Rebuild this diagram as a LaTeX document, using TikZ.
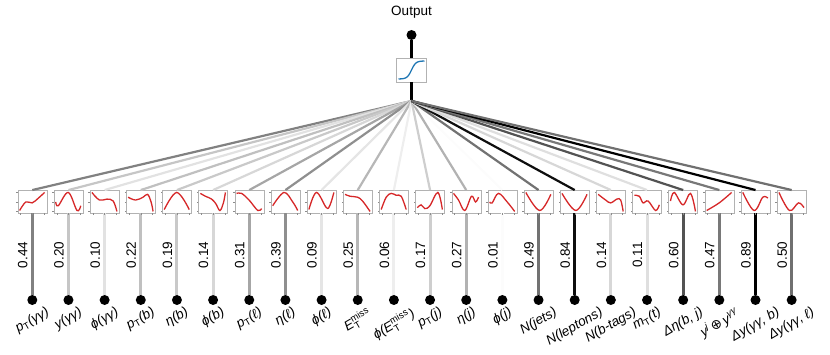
\documentclass[tikz,border=0pt]{standalone}
\usepackage{amsmath}
\usepackage{fontspec}
\setmainfont{Liberation Sans}
\newfontfamily\symfont{DejaVu Sans}
\usetikzlibrary{positioning,calc}
\definecolor{curvered}{RGB}{214,39,40}
\definecolor{curveblue}{RGB}{31,119,180}
\newcommand\idx[1]{\textsubscript{\upshape #1}}
\newcommand\emiss{$^{\text{\upshape miss}}_{\text{\upshape T}}$}
\tikzset{
 plotbox/.style={rectangle,draw=black!30,line width=0.4pt,fill=white,minimum width=29pt,minimum height=23pt,inner sep=0pt},
 unit/.style={circle,fill=black,inner sep=0pt,minimum size=10pt},
 stem/.style={line width=3pt},
 edge/.style={line width=2.2pt},
 curve/.style={curvered,line width=1.3pt},
 tick/.style={black!45,line width=0.3pt},
 weight/.style={rotate=90,inner sep=0pt,font=\fontsize{13.5}{16}\selectfont},
 feature/.style={anchor=north,inner sep=0pt,font=\fontsize{13.5}{16}\selectfont}}
\newcommand\minicurve[2]{\draw[curve,shift={($(box#1.south west)+(2,2)$)},x=25pt,y=19pt] plot[smooth,tension=0.6] coordinates {#2};}

\begin{document}
\begin{tikzpicture}[x=1pt,y=1pt]
\useasboundingbox (0,0) rectangle (830,354);
\node[font=\fontsize{13.5}{16}\selectfont] (outlabel) at (411.5,342) {Output};
\node[unit] (out) at (411.5,319) {};
\node[plotbox,minimum width=30pt,minimum height=24pt] (sig) at (411.5,284) {};
\coordinate (hub) at (411.5,253);
\draw[stem] (out) -- (sig.north); \draw[stem] (sig.south) -- (hub);
\draw[curveblue,line width=1.3pt] plot[domain=-1:1,samples=40] ({411.5+13*\x},{275+18/(1+exp(-6*\x))});
% inputs
\foreach \i/\w/\lab in {
 1/0.44/{\textit{p\idx{T}(γγ)}}, 2/0.20/{\textit{y(γγ)}}, 3/0.10/{\textit{ϕ(γγ)}},
 4/0.22/{\textit{p\idx{T}(b)}}, 5/0.19/{\textit{η(b)}}, 6/0.14/{\textit{ϕ(b)}},
 7/0.31/{\textit{p\idx{T}(ℓ)}}, 8/0.39/{\textit{η(ℓ)}}, 9/0.09/{\textit{ϕ(ℓ)}},
 10/0.25/{\textit{E\emiss}}, 11/0.06/{\textit{ϕ(E\emiss)}}, 12/0.17/{\textit{p\idx{T}(j)}},
 13/0.27/{\textit{η(j)}}, 14/0.01/{\textit{ϕ(j)}}, 15/0.49/{\textit{N(jets)}},
 16/0.84/{\textit{N(leptons)}}, 17/0.14/{\textit{N(b-tags)}}, 18/0.11/{\textit{m\idx{T}(t)}},
 19/0.60/{\textit{Δη(b, j)}}, 20/0.47/{\textit{y\textsuperscript{j}\,{\upshape\symfont ⊕}\,y\textsuperscript{γγ}}},
 21/0.89/{\textit{Δy(γγ, b)}}, 22/0.50/{\textit{Δy(γγ, ℓ)}}}{
  \pgfmathsetmacro\xx{32.3+36.16*(\i-1)}
  \pgfmathsetmacro\shade{100*\w/0.89}
  \node[plotbox] (box\i) at (\xx,152.25) {};
  \node[unit] (in\i) at (\xx,54) {};
  \draw[edge,black!\shade] (hub) -- (box\i.north);
  \draw[stem,black!\shade] (box\i.south) -- (in\i);
  \node[weight] (w\i) at (\xx-9.5,99) {\w};
  \node[feature] (lab\i) at (\xx,48) {\rotatebox{30}{\lab}};
  \foreach \t in {0.1,0.5,0.9}{
   \draw[tick] ($(box\i.south west)!\t!(box\i.south east)$) -- ++(0,-1.5);
   \draw[tick] ($(box\i.south west)!\t!(box\i.north west)$) -- ++(-1.5,0);}
}
\minicurve{1}{(0,.05)(.25,.5)(.5,.45)(.75,.7)(1,1)}
\minicurve{2}{(0,.5)(.1,.3)(.5,1)(.85,.05)(1,.3)}
\minicurve{3}{(0,1)(.3,.6)(.6,.65)(.85,.55)(1,0)}
\minicurve{4}{(0,.75)(.3,.6)(.6,.75)(.78,.9)(.92,.5)(1,0)}
\minicurve{5}{(0,.1)(.5,1)(1,.1)}
\minicurve{6}{(0,.95)(.2,.8)(.45,.65)(.62,.4)(.78,.05)(.92,.45)(1,1)}
\minicurve{7}{(0,.95)(.2,.95)(.5,.6)(.85,.05)(1,.15)}
\minicurve{8}{(0,.3)(.45,1)(.8,.5)(1,.05)}
\minicurve{9}{(0,.1)(.3,1)(.7,.2)(.85,.35)(1,1)}
\minicurve{10}{(0,.9)(.2,.8)(.5,.75)(.7,.55)(1,0)}
\minicurve{11}{(0,.1)(.2,.75)(.4,.95)(.6,.85)(.8,.8)(1,.1)}
\minicurve{12}{(0,.2)(.15,.35)(.3,.15)(.5,.3)(.82,1)(1,.1)}
\minicurve{13}{(0,.95)(.2,.6)(.45,.05)(.72,.8)(.88,.5)(1,.75)}
\minicurve{14}{(0,.5)(.1,.45)(.35,.95)(.7,.5)(1,0)}
\minicurve{15}{(0,1)(.55,.05)(1,.9)}
\minicurve{16}{(0,.95)(.55,.05)(1,.9)}
\minicurve{17}{(0,.9)(.3,.6)(.5,.45)(.75,.65)(.9,.6)(1,0)}
\minicurve{18}{(0,.85)(.2,.8)(.35,.45)(.55,.55)(.85,.05)(1,.35)}
\minicurve{19}{(0,.55)(.15,1)(.5,.35)(.8,.95)(1,0)}
\minicurve{20}{(0,.05)(.5,.45)(1,1)}
\minicurve{21}{(0,1)(.45,.05)(.8,.75)(1,.7)}
\minicurve{22}{(0,1)(.42,.05)(.78,.45)(1,.2)}
\end{tikzpicture}
\end{document}
